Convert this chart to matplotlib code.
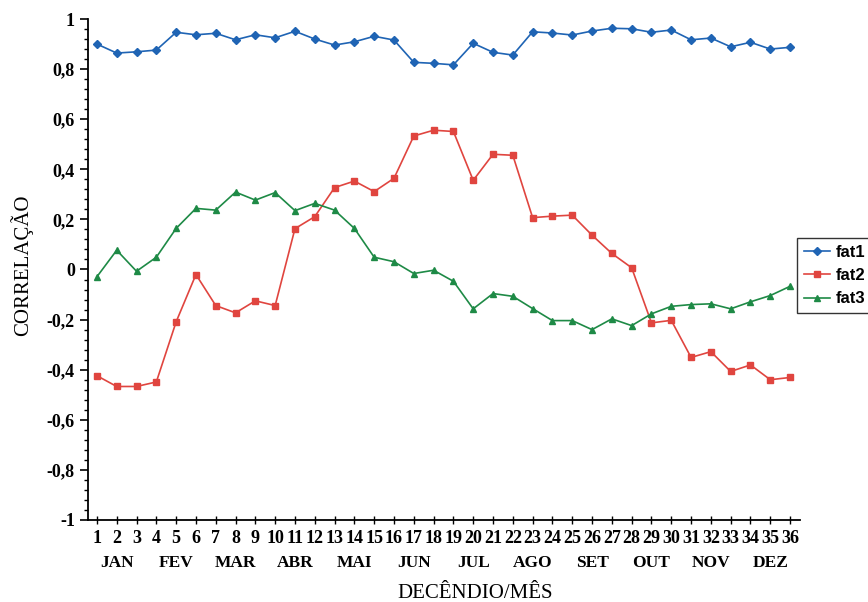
import matplotlib
matplotlib.use("Agg")
import matplotlib.pyplot as plt
from matplotlib.ticker import MultipleLocator, FuncFormatter

decendio = list(range(1, 37))
meses = ["JAN", "FEV", "MAR", "ABR", "MAI", "JUN", "JUL", "AGO", "SET", "OUT", "NOV", "DEZ"]

fat1 = [0.900, 0.864, 0.869, 0.876, 0.947, 0.937, 0.943, 0.917, 0.937, 0.925,
        0.951, 0.920, 0.896, 0.909, 0.931, 0.916, 0.827, 0.823, 0.817, 0.903,
        0.867, 0.856, 0.949, 0.944, 0.936, 0.952, 0.963, 0.961, 0.947, 0.956,
        0.917, 0.924, 0.889, 0.907, 0.880, 0.887]
fat2 = [-0.424, -0.467, -0.467, -0.449, -0.209, -0.020, -0.144, -0.173, -0.125, -0.144,
        0.163, 0.211, 0.327, 0.353, 0.311, 0.364, 0.533, 0.556, 0.551, 0.356,
        0.460, 0.456, 0.207, 0.213, 0.217, 0.137, 0.064, 0.007, -0.213, -0.203,
        -0.351, -0.328, -0.407, -0.381, -0.440, -0.431]
fat3 = [-0.029, 0.077, -0.007, 0.049, 0.164, 0.244, 0.237, 0.309, 0.277, 0.307,
        0.235, 0.264, 0.237, 0.164, 0.049, 0.031, -0.016, -0.003, -0.047, -0.157,
        -0.096, -0.107, -0.156, -0.204, -0.204, -0.240, -0.197, -0.224, -0.177, -0.147,
        -0.140, -0.137, -0.157, -0.129, -0.104, -0.067]

fig = plt.figure(figsize=(8.68, 6.02), dpi=100)
ax = fig.add_axes([88/868, 1-520/602, (800-88)/868, (520-19)/602])

c1, c2, c3 = "#1f64b4", "#e0453f", "#1e8a46"
ax.plot(decendio, fat1, color=c1, marker="D", markersize=4, lw=1.2, label="fat1")
ax.plot(decendio, fat2, color=c2, marker="s", markersize=5, lw=1.2, label="fat2")
ax.plot(decendio, fat3, color=c3, marker="^", markersize=5, lw=1.2, label="fat3")

ax.set_xlim(0.55, 36.5)
ax.set_ylim(-1, 1)
for s in ["top", "right"]:
    ax.spines[s].set_visible(False)
for s in ["left", "bottom"]:
    ax.spines[s].set_linewidth(1.3)

ax.yaxis.set_major_locator(MultipleLocator(0.2))
ax.yaxis.set_minor_locator(MultipleLocator(0.04))
ax.yaxis.set_major_formatter(FuncFormatter(lambda v, p: ("%g" % round(v, 1)).replace(".", ",")))
ax.set_xticks(decendio)
ax.set_xticklabels([str(d) for d in decendio])
ax.tick_params(axis="y", which="major", direction="out", length=6, width=1.2)
ax.tick_params(axis="y", which="minor", direction="out", length=3, width=1)
ax.tick_params(axis="x", which="major", direction="inout", length=6, width=1, pad=4)

serif = "Liberation Serif"
for lab in ax.get_xticklabels() + ax.get_yticklabels():
    lab.set_fontfamily(serif)
    lab.set_fontweight("bold")
    lab.set_fontsize(13)

# month labels under the decendio ticks
for i, m in enumerate(meses):
    ax.text(3 * i + 2, -43/501, m, transform=ax.get_xaxis_transform(),
            ha="center", va="center", fontfamily=serif, fontsize=12.5, fontweight="bold")

fig.text(475/868, 1-593/602, "DECÊNDIO/MÊS", ha="center", va="center",
         fontfamily=serif, fontsize=15)
fig.text(22/868, 1-265/602, "CORRELAÇÃO", ha="center", va="center", rotation=90,
         fontfamily=serif, fontsize=15)

leg = ax.legend(loc="upper left", bbox_to_anchor=(797/868, 1-238/602),
                bbox_transform=fig.transFigure, frameon=True, fancybox=False,
                prop={"family": "Liberation Sans", "weight": "bold", "size": 12},
                handlelength=1.6, handletextpad=0.3, borderpad=0.4, labelspacing=0.5,
                borderaxespad=0)
leg.get_frame().set_edgecolor("black")
leg.get_frame().set_linewidth(1.0)

fig.savefig("out.png", dpi=100)
